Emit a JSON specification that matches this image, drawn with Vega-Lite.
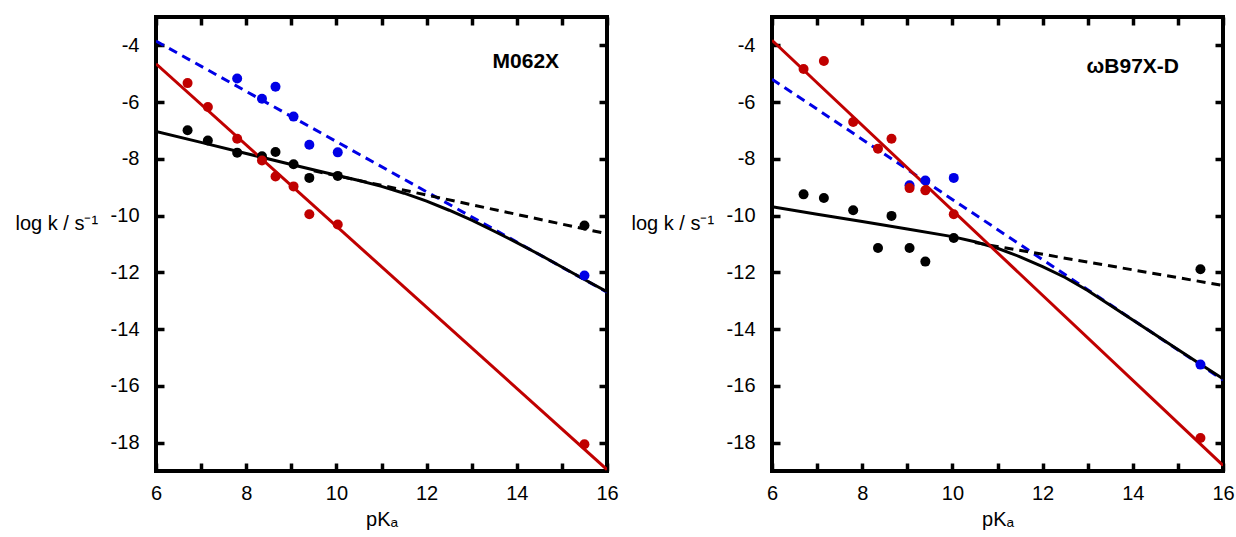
{
  "$schema": "https://vega.github.io/schema/vega-lite/v6.json",
  "autosize": {"type": "pad"},
  "padding": {"left": 13, "top": 13, "right": 5, "bottom": 0},
  "background": "white",
  "config": {
    "view": {"stroke": "black", "strokeWidth": 4},
    "font": "Liberation Sans",
    "axis": {
      "domain": false, "grid": false, "tickColor": "black", "tickWidth": 3.5, "tickSize": 8, "offset": -8,
      "labelFont": "Liberation Sans", "labelFontSize": 20, "labelColor": "black",
      "labelFlush": false, "labelOverlap": false,
      "titleFont": "Liberation Sans", "titleFontSize": 20, "titleFontWeight": "normal", "titleColor": "black"
    }
  },
  "datasets": {
    "L1": [
      {"s": "blue", "pKa": 6, "logk": -3.85}, {"s": "blue", "pKa": 16, "logk": -12.7},
      {"s": "blackdash", "pKa": 9.5, "logk": -8.42}, {"s": "blackdash", "pKa": 16, "logk": -10.64},
      {"s": "black", "pKa": 6, "logk": -7.03}, {"s": "black", "pKa": 7, "logk": -7.42}, {"s": "black", "pKa": 8, "logk": -7.81},
      {"s": "black", "pKa": 9, "logk": -8.2}, {"s": "black", "pKa": 10, "logk": -8.58}, {"s": "black", "pKa": 10.5, "logk": -8.76},
      {"s": "black", "pKa": 11, "logk": -8.97}, {"s": "black", "pKa": 11.5, "logk": -9.21}, {"s": "black", "pKa": 12, "logk": -9.49},
      {"s": "black", "pKa": 12.5, "logk": -9.81}, {"s": "black", "pKa": 13, "logk": -10.16}, {"s": "black", "pKa": 13.5, "logk": -10.55},
      {"s": "black", "pKa": 14, "logk": -10.95}, {"s": "black", "pKa": 14.5, "logk": -11.37}, {"s": "black", "pKa": 15, "logk": -11.81},
      {"s": "black", "pKa": 15.5, "logk": -12.25}, {"s": "black", "pKa": 16, "logk": -12.68},
      {"s": "red", "pKa": 6, "logk": -4.65}, {"s": "red", "pKa": 16, "logk": -18.95}
    ],
    "P1": [
      {"s": "black", "pKa": 6.7, "logk": -6.99}, {"s": "black", "pKa": 7.15, "logk": -7.35}, {"s": "black", "pKa": 7.8, "logk": -7.78},
      {"s": "black", "pKa": 8.35, "logk": -7.91}, {"s": "black", "pKa": 8.65, "logk": -7.76}, {"s": "black", "pKa": 9.05, "logk": -8.19},
      {"s": "black", "pKa": 9.4, "logk": -8.67}, {"s": "black", "pKa": 10.03, "logk": -8.6}, {"s": "black", "pKa": 15.5, "logk": -10.35},
      {"s": "blue", "pKa": 7.8, "logk": -5.17}, {"s": "blue", "pKa": 8.35, "logk": -5.88}, {"s": "blue", "pKa": 8.65, "logk": -5.46},
      {"s": "blue", "pKa": 9.05, "logk": -6.51}, {"s": "blue", "pKa": 9.4, "logk": -7.5}, {"s": "blue", "pKa": 10.03, "logk": -7.77},
      {"s": "blue", "pKa": 15.5, "logk": -12.11},
      {"s": "red", "pKa": 6.7, "logk": -5.33}, {"s": "red", "pKa": 7.15, "logk": -6.17}, {"s": "red", "pKa": 7.8, "logk": -7.29},
      {"s": "red", "pKa": 8.35, "logk": -8.06}, {"s": "red", "pKa": 8.65, "logk": -8.62}, {"s": "red", "pKa": 9.05, "logk": -8.97},
      {"s": "red", "pKa": 9.4, "logk": -9.95}, {"s": "red", "pKa": 10.03, "logk": -10.31}, {"s": "red", "pKa": 15.5, "logk": -18.06}
    ],
    "L2": [
      {"s": "blue", "pKa": 6, "logk": -5.19}, {"s": "blue", "pKa": 16, "logk": -15.79},
      {"s": "blackdash", "pKa": 10.5, "logk": -10.95}, {"s": "blackdash", "pKa": 16, "logk": -12.46},
      {"s": "black", "pKa": 6, "logk": -9.69}, {"s": "black", "pKa": 7, "logk": -9.95}, {"s": "black", "pKa": 8, "logk": -10.21},
      {"s": "black", "pKa": 9, "logk": -10.47}, {"s": "black", "pKa": 10, "logk": -10.74}, {"s": "black", "pKa": 10.5, "logk": -10.92},
      {"s": "black", "pKa": 11, "logk": -11.15}, {"s": "black", "pKa": 11.5, "logk": -11.45}, {"s": "black", "pKa": 12, "logk": -11.8},
      {"s": "black", "pKa": 12.5, "logk": -12.18}, {"s": "black", "pKa": 13, "logk": -12.64}, {"s": "black", "pKa": 13.5, "logk": -13.16},
      {"s": "black", "pKa": 14, "logk": -13.68}, {"s": "black", "pKa": 14.5, "logk": -14.2}, {"s": "black", "pKa": 15, "logk": -14.72},
      {"s": "black", "pKa": 15.5, "logk": -15.24}, {"s": "black", "pKa": 16, "logk": -15.75},
      {"s": "red", "pKa": 6, "logk": -3.82}, {"s": "red", "pKa": 16, "logk": -18.8}
    ],
    "P2": [
      {"s": "black", "pKa": 6.7, "logk": -9.25}, {"s": "black", "pKa": 7.15, "logk": -9.38}, {"s": "black", "pKa": 7.8, "logk": -9.81},
      {"s": "black", "pKa": 8.35, "logk": -11.14}, {"s": "black", "pKa": 8.65, "logk": -10.01}, {"s": "black", "pKa": 9.05, "logk": -11.14},
      {"s": "black", "pKa": 9.4, "logk": -11.62}, {"s": "black", "pKa": 10.03, "logk": -10.79}, {"s": "black", "pKa": 15.5, "logk": -11.89},
      {"s": "blue", "pKa": 9.05, "logk": -8.93}, {"s": "blue", "pKa": 9.4, "logk": -8.76}, {"s": "blue", "pKa": 10.03, "logk": -8.67},
      {"s": "blue", "pKa": 15.5, "logk": -15.25},
      {"s": "red", "pKa": 6.7, "logk": -4.83}, {"s": "red", "pKa": 7.15, "logk": -4.55}, {"s": "red", "pKa": 7.8, "logk": -6.7},
      {"s": "red", "pKa": 8.35, "logk": -7.64}, {"s": "red", "pKa": 8.65, "logk": -7.29}, {"s": "red", "pKa": 9.05, "logk": -9.03},
      {"s": "red", "pKa": 9.4, "logk": -9.11}, {"s": "red", "pKa": 10.03, "logk": -9.95}, {"s": "red", "pKa": 15.5, "logk": -17.84}
    ]
  },
  "bounds": "flush",
  "spacing": 165,
  "hconcat": [
    {
      "width": 451, "height": 454,
      "resolve": {"axis": {"x": "independent", "y": "independent"}},
      "layer": [
        {
          "data": {"name": "L1"}, "transform": [{"filter": "datum.s == 'blue'"}],
          "mark": {"type": "line", "color": "#0000e6", "strokeWidth": 3, "strokeDash": [9, 6], "clip": true},
          "encoding": {
            "x": {"field": "pKa", "type": "quantitative", "scale": {"domain": [6, 16], "nice": false, "zero": false},
              "axis": {"orient": "bottom", "values": [6, 7, 8, 9, 10, 11, 12, 13, 14, 15, 16], "labelExpr": "datum.value % 2 == 0 ? '' + datum.value : ''", "labelPadding": 12, "title": "pKₐ", "titleY": 62, "titleBaseline": "alphabetic"}},
            "y": {"field": "logk", "type": "quantitative", "scale": {"domain": [-19, -3], "nice": false, "zero": false},
              "axis": {"orient": "left", "values": [-18, -16, -14, -12, -10, -8, -6, -4], "labelExpr": "'' + datum.value", "labelPadding": 17, "title": "log k / s⁻¹", "titleAngle": 0, "titleAlign": "left", "titleBaseline": "alphabetic", "titleX": -149, "titleY": 212}}
          }
        },
        {
          "data": {"name": "L1"}, "transform": [{"filter": "datum.s == 'blackdash'"}],
          "mark": {"type": "line", "color": "black", "strokeWidth": 3, "strokeDash": [9, 6], "clip": true},
          "encoding": {"x": {"field": "pKa", "type": "quantitative", "axis": null}, "y": {"field": "logk", "type": "quantitative", "axis": null}}
        },
        {
          "data": {"name": "L1"}, "transform": [{"filter": "datum.s == 'black'"}],
          "mark": {"type": "line", "color": "black", "strokeWidth": 3, "clip": true},
          "encoding": {"x": {"field": "pKa", "type": "quantitative", "axis": null}, "y": {"field": "logk", "type": "quantitative", "axis": null}}
        },
        {
          "data": {"name": "L1"}, "transform": [{"filter": "datum.s == 'red'"}],
          "mark": {"type": "line", "color": "#c00000", "strokeWidth": 3, "clip": true},
          "encoding": {"x": {"field": "pKa", "type": "quantitative", "axis": null}, "y": {"field": "logk", "type": "quantitative", "axis": null}}
        },
        {
          "data": {"name": "P1"},
          "mark": {"type": "circle", "size": 100, "opacity": 1},
          "encoding": {
            "x": {"field": "pKa", "type": "quantitative", "axis": {"orient": "top", "values": [6, 7, 8, 9, 10, 11, 12, 13, 14, 15, 16], "labels": false, "title": null}},
            "y": {"field": "logk", "type": "quantitative", "axis": {"orient": "right", "values": [-18, -16, -14, -12, -10, -8, -6, -4], "labels": false, "title": null}},
            "color": {"field": "s", "type": "nominal", "scale": {"domain": ["black", "blue", "red"], "range": ["#000000", "#0000e6", "#c00000"]}, "legend": null}
          }
        },
        {
          "data": {"values": [{"t": "M062X"}]},
          "mark": {"type": "text", "font": "Liberation Sans", "fontSize": 21, "fontWeight": "bold", "align": "center", "baseline": "middle", "color": "black"},
          "encoding": {
            "x": {"datum": 14.2, "type": "quantitative", "axis": null},
            "y": {"datum": -4.59, "type": "quantitative", "axis": null},
            "text": {"field": "t"}
          }
        }
      ]
    },
    {
      "width": 451, "height": 454,
      "resolve": {"axis": {"x": "independent", "y": "independent"}},
      "layer": [
        {
          "data": {"name": "L2"}, "transform": [{"filter": "datum.s == 'blue'"}],
          "mark": {"type": "line", "color": "#0000e6", "strokeWidth": 3, "strokeDash": [9, 6], "clip": true},
          "encoding": {
            "x": {"field": "pKa", "type": "quantitative", "scale": {"domain": [6, 16], "nice": false, "zero": false},
              "axis": {"orient": "bottom", "values": [6, 7, 8, 9, 10, 11, 12, 13, 14, 15, 16], "labelExpr": "datum.value % 2 == 0 ? '' + datum.value : ''", "labelPadding": 12, "title": "pKₐ", "titleY": 62, "titleBaseline": "alphabetic"}},
            "y": {"field": "logk", "type": "quantitative", "scale": {"domain": [-19, -3], "nice": false, "zero": false},
              "axis": {"orient": "left", "values": [-18, -16, -14, -12, -10, -8, -6, -4], "labelExpr": "'' + datum.value", "labelPadding": 17, "title": "log k / s⁻¹", "titleAngle": 0, "titleAlign": "left", "titleBaseline": "alphabetic", "titleX": -149, "titleY": 212}}
          }
        },
        {
          "data": {"name": "L2"}, "transform": [{"filter": "datum.s == 'blackdash'"}],
          "mark": {"type": "line", "color": "black", "strokeWidth": 3, "strokeDash": [9, 6], "clip": true},
          "encoding": {"x": {"field": "pKa", "type": "quantitative", "axis": null}, "y": {"field": "logk", "type": "quantitative", "axis": null}}
        },
        {
          "data": {"name": "L2"}, "transform": [{"filter": "datum.s == 'black'"}],
          "mark": {"type": "line", "color": "black", "strokeWidth": 3, "clip": true},
          "encoding": {"x": {"field": "pKa", "type": "quantitative", "axis": null}, "y": {"field": "logk", "type": "quantitative", "axis": null}}
        },
        {
          "data": {"name": "L2"}, "transform": [{"filter": "datum.s == 'red'"}],
          "mark": {"type": "line", "color": "#c00000", "strokeWidth": 3, "clip": true},
          "encoding": {"x": {"field": "pKa", "type": "quantitative", "axis": null}, "y": {"field": "logk", "type": "quantitative", "axis": null}}
        },
        {
          "data": {"name": "P2"},
          "mark": {"type": "circle", "size": 100, "opacity": 1},
          "encoding": {
            "x": {"field": "pKa", "type": "quantitative", "axis": {"orient": "top", "values": [6, 7, 8, 9, 10, 11, 12, 13, 14, 15, 16], "labels": false, "title": null}},
            "y": {"field": "logk", "type": "quantitative", "axis": {"orient": "right", "values": [-18, -16, -14, -12, -10, -8, -6, -4], "labels": false, "title": null}},
            "color": {"field": "s", "type": "nominal", "scale": {"domain": ["black", "blue", "red"], "range": ["#000000", "#0000e6", "#c00000"]}, "legend": null}
          }
        },
        {
          "data": {"values": [{"t": "ωB97X-D"}]},
          "mark": {"type": "text", "font": "Liberation Sans", "fontSize": 21, "fontWeight": "bold", "align": "center", "baseline": "middle", "color": "black"},
          "encoding": {
            "x": {"datum": 14.0, "type": "quantitative", "axis": null},
            "y": {"datum": -4.76, "type": "quantitative", "axis": null},
            "text": {"field": "t"}
          }
        }
      ]
    }
  ]
}
